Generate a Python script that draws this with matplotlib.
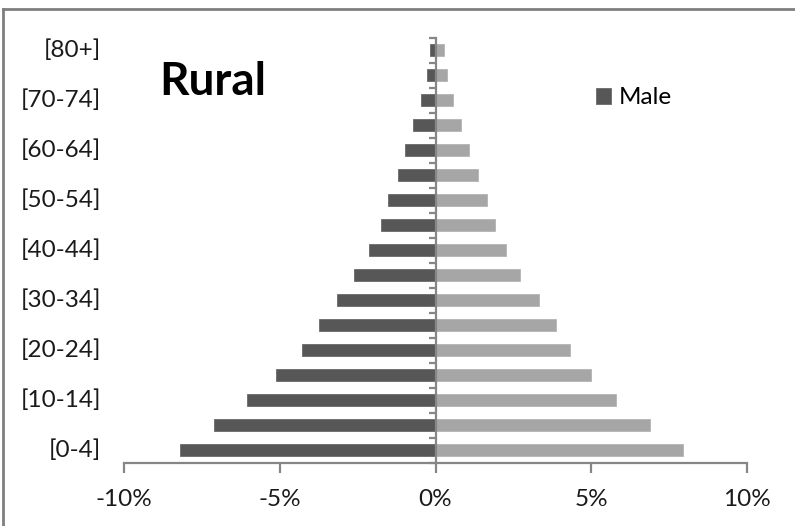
import matplotlib
matplotlib.use("Agg")
import matplotlib.pyplot as plt
from matplotlib.lines import Line2D
from matplotlib.ticker import FixedLocator
import numpy as np

# Age groups, youngest first
age_groups = ["[0-4]", "[5-9]", "[10-14]", "[15-19]", "[20-24]", "[25-29]",
              "[30-34]", "[35-39]", "[40-44]", "[45-49]", "[50-54]", "[55-59]",
              "[60-64]", "[65-69]", "[70-74]", "[75-79]", "[80+]"]

# Share of the rural population (%) in each age group
male_pct = [8.2, 7.12, 6.04, 5.11, 4.28, 3.75, 3.16, 2.63, 2.13, 1.76,
            1.52, 1.21, 0.97, 0.73, 0.48, 0.28, 0.19]
female_pct = [7.96, 6.89, 5.79, 4.99, 4.33, 3.88, 3.33, 2.72, 2.27, 1.91,
              1.65, 1.36, 1.07, 0.83, 0.57, 0.37, 0.28]

x_ticks = [-10, -5, 0, 5, 10]
x_tick_labels = ["-10%", "-5%", "0%", "5%", "10%"]

W, H = 795, 526
fig = plt.figure(figsize=(W / 100, H / 100), dpi=100)
fig.patch.set_facecolor("white")
plt.rcParams["font.family"] = ["Lato", "DejaVu Sans"]

ax = fig.add_axes([124 / W, (H - 462.5) / H, (747 - 124) / W, 425 / H])

ypos = np.arange(len(age_groups))
ax.barh(ypos, -np.array(male_pct), height=0.5, color="#575757",
        edgecolor="#6a6a6a", linewidth=0.6, label="Male", zorder=2)
ax.barh(ypos, female_pct, height=0.5, color="#a6a6a6",
        edgecolor="#b4b4b4", linewidth=0.6, zorder=2)

ax.set_xlim(-10, 10)
ax.set_ylim(-0.5, len(age_groups) - 0.5)

axis_grey = "#868686"
for s in ("top", "right"):
    ax.spines[s].set_visible(False)
ax.spines["left"].set_position(("data", 0))
ax.spines["left"].set_color(axis_grey)
ax.spines["left"].set_linewidth(1.6)
ax.spines["left"].set_zorder(3)
ax.spines["bottom"].set_color(axis_grey)
ax.spines["bottom"].set_linewidth(1.6)

ax.set_xticks(x_ticks)
ax.set_xticklabels(x_tick_labels, fontsize=17.5, color="#1a1a1a")
ax.tick_params(axis="x", direction="out", length=7, width=1.6,
               color=axis_grey, pad=12)

# y ticks sit on the category boundaries; labels are drawn separately
ax.set_yticks([])
ax.yaxis.set_minor_locator(FixedLocator(np.arange(-0.5, len(age_groups), 1.0)))
ax.tick_params(axis="y", which="minor", direction="out", length=5,
               width=1.6, color=axis_grey)

for i, lab in enumerate(age_groups):
    if i % 2 == 0:
        ax.text(-0.037, i, lab, transform=ax.get_yaxis_transform(),
                ha="right", va="center", fontsize=17.5, color="#1a1a1a")

fig.text(159 / W, 1 - 82 / H, "Rural", fontsize=33, fontweight="bold",
         ha="left", va="center", color="black")

leg = ax.legend(loc="center left", bbox_to_anchor=(596 / W, 1 - 98 / H),
                bbox_transform=fig.transFigure, frameon=False, fontsize=17.5,
                handlelength=0.6, handleheight=0.6, handletextpad=0.35,
                borderpad=0, borderaxespad=0)

# outer chart frame
frame_kw = dict(color="#7f7f7f", linewidth=2.0, transform=fig.transFigure)
fig.add_artist(Line2D([3 / W, 3 / W], [0, 1 - 9 / H], **frame_kw))
fig.add_artist(Line2D([3 / W, 1], [1 - 9 / H, 1 - 9 / H], **frame_kw))

fig.savefig("out.png", dpi=100)
